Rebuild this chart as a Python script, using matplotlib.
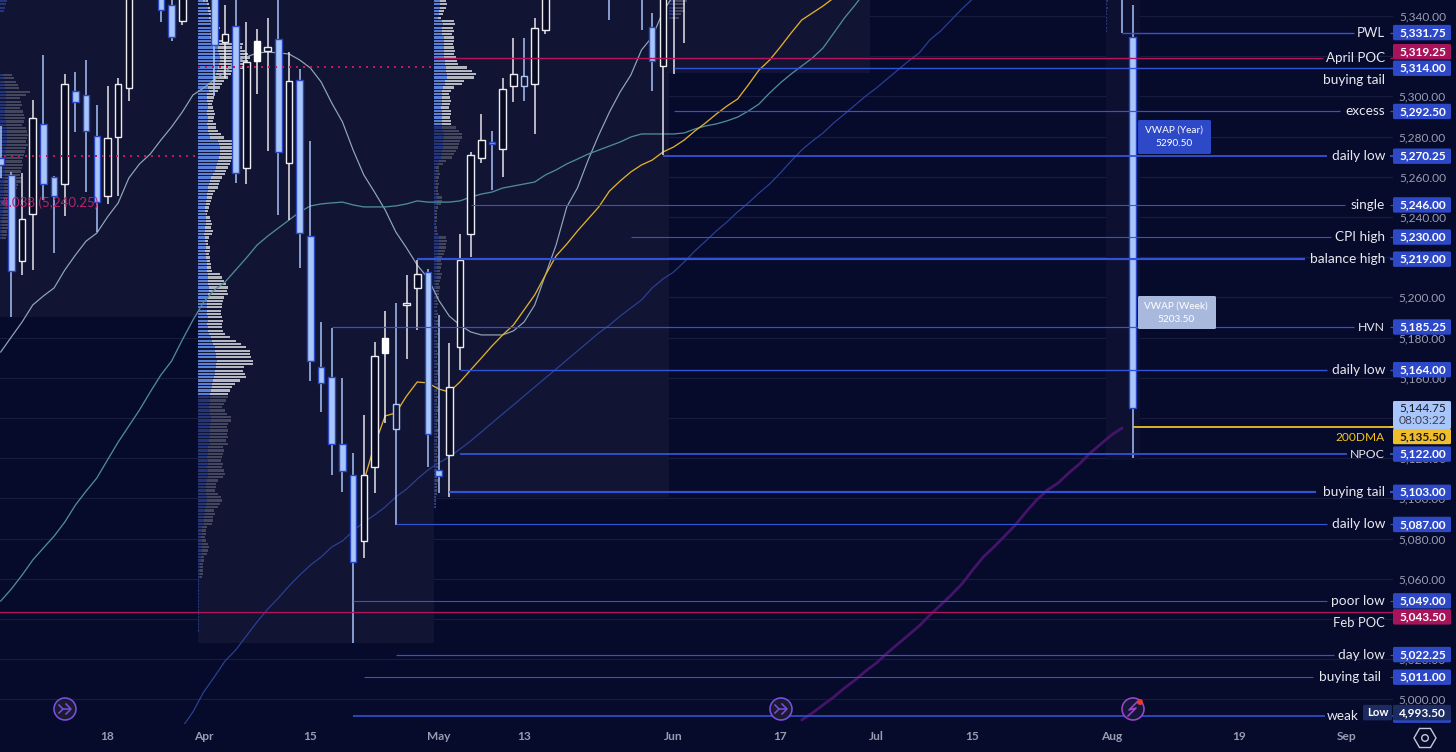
import numpy as np
import matplotlib
matplotlib.use("Agg")
import matplotlib.pyplot as plt
from matplotlib.patches import FancyBboxPatch, Circle, RegularPolygon, Rectangle

plt.rcParams['font.family'] = ['Lato', 'DejaVu Sans']

BG = '#060a2b'
BOX = '#111433'
BLUE_FILL = '#a9c6fb'
BLUE_EDGE = '#2a46c0'
TAG_BLUE = '#2e49c8'
GRID = '#191d3d'

# ---- candles: bar number (Mar 18 = 0), body top/bottom, wick, style
bar = [-10,-9,-8,-7,-6,-5,-4,-3,-2,-1,0,1,2,5,6,7,9,10,11,12,13,14,15,16,17,18,19,20,21,22,23,24,25,26,27,28,29,30,31,32,33,34,35,36,37,38,39,40,41,47,50,51,52,53,54,95,96]
body_top = [5269.3,5260.9,5239,5289.2,5286.3,5259.9,5306.2,5302.7,5300.7,5280.3,5279.3,5306.2,5370,5365,5345.5,5360,5365,5380,5331,5335,5317.1,5327.6,5324.6,5328.6,5307.7,5308.2,5230.5,5165.3,5160.4,5127,5111.6,5111.6,5170.8,5179.8,5146.9,5197.2,5211.6,5212.6,5114.1,5155.4,5218.6,5270.8,5278.3,5277.3,5303.7,5311.1,5310.1,5334,5362,5370,5370,5334.5,5365,5372,5372,5375,5329.6]
body_bot = [5265.9,5213.1,5218.1,5241.5,5256.4,5250.4,5256.4,5297.2,5282.8,5247.4,5250.4,5279.8,5304.2,5343,5329.6,5337.5,5352,5325.6,5327.1,5261.9,5264.4,5317.6,5322.6,5272.3,5266.9,5232,5168.3,5157.4,5127,5113.6,5068.3,5078.8,5115.6,5172.3,5134.5,5196.2,5204.7,5132,5111.1,5121.6,5175.3,5231.5,5269.3,5276.3,5273.8,5305.2,5305.2,5306.2,5333,5350,5352,5317.6,5315.1,5352,5352,5350,5145]
wick_high = [5285.3,5262.4,5261.9,5298.2,5320.6,5260.4,5311.1,5312.1,5318.1,5295.7,5305.2,5309.1,5375,5370,5355,5362,5370,5385,5345.5,5370,5337,5333.5,5339,5365,5322.1,5313.6,5277.8,5187.7,5184.8,5159.9,5122.5,5141.5,5177.8,5193.2,5197.2,5211.1,5218.6,5214,5191.2,5177.3,5231.5,5272.3,5291.2,5282.8,5309.1,5329.1,5329.1,5339,5370,5375,5375,5341.5,5375,5375,5375,5380,5345.5]
wick_low = [5259.4,5190.2,5211.1,5213.6,5248.4,5222.1,5240.5,5282.3,5252.4,5232.5,5246.5,5250.4,5297.7,5337,5327.6,5335.5,5347,5300.2,5309.1,5256.9,5256.4,5301.2,5272.8,5241,5238.5,5214.6,5158.4,5143,5111.6,5103.1,5028,5070.3,5102.6,5137.5,5086.7,5169.3,5183.8,5115.6,5102.6,5100.7,5163.9,5220,5266.9,5253.4,5259.9,5297.2,5297.7,5281.3,5331,5338,5333,5302.7,5270.8,5311.1,5326.6,5331.5,5120]
style = list("BBHHBBHBBBHHHBBHBBHBHWHBHBBBBBBHHWOHHBBHHHHBHHOHHBBBHHHBB")

# ---- moving averages
ma_a_start = -10
ma_a = [5172.8,5180.3,5187.7,5196.2,5200.7,5204.7,5213.6,5221.1,5228,5232,5240,5247,5259.4,5266.4,5271.3,5278.3,5284.8,5292.2,5300.7,5304.2,5308.2,5312.1,5317.1,5319.6,5321.6,5322.1,5321.6,5321.1,5318.1,5314.1,5307.2,5296.7,5287.3,5273.3,5260.9,5252.4,5243.5,5232.5,5224.6,5216.1,5209.6,5198.7,5190.7,5186.2,5182.8,5181.3,5181.3,5181.3,5183.3,5187.7,5196.2,5211.1,5226,5245,5254.4,5268.3,5280.8,5292.2,5302.2,5310.6,5323.1,5329.6,5342,5350.4,5360.4]
ma_t_start = -10
ma_t = [5048.9,5054.9,5061.8,5069.3,5075.3,5081.2,5088.2,5096.7,5103.6,5110.1,5119.1,5128,5136,5144,5152.9,5161.4,5168.3,5178.8,5188.7,5197.7,5203.7,5207.6,5213.6,5219.6,5226,5230.5,5234.5,5238.5,5242.5,5245.5,5246.5,5247,5247.4,5246,5245,5245,5245,5245.5,5246.5,5248,5247.4,5247.4,5247.4,5248,5249.9,5251.4,5252.4,5254.4,5255.4,5256.4,5257.4,5260.9,5263.4,5266.4,5268.8,5271.3,5273.3,5275.3,5277.3,5279.8,5281.3,5281.3,5281.3,5281.3,5281.8,5283.8,5285.3,5286.3,5287.8,5289.7,5292.7,5296.2,5301.7,5306.7,5311.1,5315.1,5319.1,5324.1,5331.5,5339,5345.5,5352.4]
ma_n_start = 7
ma_n = [4986.2,4993.7,5003.6,5011.1,5019,5024.5,5031.5,5038.5,5044.9,5050.4,5056.4,5061.8,5066.8,5070.8,5075.8,5078.8,5083.7,5088.2,5091.7,5095.7,5100.7,5104.6,5109.6,5114.1,5117.6,5120.6,5124.5,5128.5,5133,5137.5,5142,5146.4,5150.9,5155.4,5159.9,5164.3,5168.8,5173.3,5177.8,5182.3,5186.2,5190.7,5194.7,5198.7,5204.7,5209.1,5212.6,5217.6,5223.1,5228,5233,5237.5,5242.5,5247,5251.9,5256.4,5261.9,5267.8,5273.3,5277.8,5281.8,5286.8,5291.2,5295.7,5300.2,5304.2,5308.7,5313.1,5317.6,5321.6,5328.1,5332.5,5338,5343.5,5348.5]
ma_y_start = 24
ma_y = [5108.6,5126.5,5141,5142.5,5150.9,5157.9,5157.4,5154.4,5152.9,5157.9,5163.9,5169.8,5175.8,5181.3,5186.2,5193.7,5201.2,5211.1,5220.6,5226.5,5233,5239,5245,5252.9,5257.9,5262.4,5265.9,5268.3,5272.3,5274.8,5278.3,5282.8,5286.8,5291.2,5295.2,5298.7,5305.7,5313.1,5318.1,5324.6,5331.5,5338,5341.5,5345,5349]
ma_p_start = 65
ma_p = [4989.7,4993.2,4997.2,5001.1,5005.6,5009.6,5014.1,5018.1,5023,5027.5,5032,5036.5,5041.9,5046.9,5051.9,5057.4,5064.3,5070.8,5075.8,5081.2,5086.7,5093.2,5099.2,5104.1,5107.6,5112.6,5117.1,5122.5,5127,5131.5,5135]

# ---- price levels drawn as lines with a name and a tag
level_price = [5331.75,5319.25,5314.00,5292.50,5270.25,5246.00,5230.00,5219.00,5185.25,5164.00,5135.50,5122.00,5103.00,5087.00,5049.00,5043.50,5022.25,5011.00,4991.75]
level_name = ["PWL","April POC","buying tail","excess","daily low","single","CPI high","balance high","HVN","daily low","200DMA","NPOC","buying tail","daily low","poor low","Feb POC","day low","buying tail","weak"]
level_start = [95,30.6,53,53,52,34,49,29,21,33,96,33,32,27,23,-11,27,24,23]
level_end_px = [1354,1323,1393,1340,1327,1345,1331,1305,1354,1327,1393,1347,1316,1327,1327,1393,1334,1313,1325]
level_lw_px = [1.4,1.4,1.4,1.2,1.8,1.1,1.1,2.2,1.2,1.4,1.8,1.8,2.2,1.2,1.1,1.2,1.2,1.1,1.6]
level_color = ['b','r','b','b','b','b','b','b','b','b','y','b','b','b','b','r','b','b','b']
label_right_px = [1385,1385,1385,1385,1385,1385,1385,1385,1385,1385,1385,1385,1385,1385,1385,1385,1385,1381,1359]
label_dy_px = [0,0,12,0,0,0,0,0,0,0,11,0,0,0,0,11,0,0,0]
label_size = [9.4,9.6,9.8,9.8,9.8,9.8,9.8,9.8,8.8,9.8,8.6,8.8,9.8,9.8,9.8,9.4,9.8,9.8,9.8]
tag_dy_px = [0,-6,0,0,0,0,0,0,0,0,9.5,0,0,0,0,5,0,0,0]

# ---- axes tick values
price_ticks = list(range(5000, 5341, 20))
covered_ticks = [5320, 5220, 5140, 5040]
time_ticks = [0,9,19,31,39,53,63,72,81,94,106,116]
time_labels = ["18","Apr","15","May","13","Jun","17","Jul","15","Aug","19","Sep"]

# ---- session volume profiles (row widths, bright part first)
apr_total = [10,11,12,13,15,14,18,20,22,20,17,19,30,45,44,47,50,52,50,48,46,36,33,30,26,24,22,20,17,16,15,14,15,16,17,16,15,18,18,20,23,26,38,40,42,40,38,36,33,32,30,28,27,24,22,21,20,17,15,14,13,12,11,10,9,12,13,14,13,15,14,11,10,10,12,12,11,12,12,13,13,14,22,24,26,28,30,29,30,26,25,24,24,23,23,24,25,24,24,25,27,32,38,43,48,52,52,53,55,55,46,45,47,48,42,37,34,32,30,
             30,28,26,24,27,29,33,33,30,29,30,29,30,28,30,25,26,25,24,23,25,24,26,27,25,20,18,18,17,20,23,24,22,20,16,17,15,15,14,9,8,8,7,8,10,11,10,9,6,6,5,5,5,5,4,1,1,1,1,1,1,1,1,1,1,1,1,1,1,1,1]
apr_blue = [8,9,10,10,11,11,12,13,14,13,12,12,16,18,20,20,21,22,22,21,20,19,18,16,14,10,10,11,9,9,9,10,10,9,9,10,10,9,10,10,11,12,20,21,22,22,22,21,20,19,18,17,15,13,12,11,10,10,9,9,8,8,7,7,8,8,8,8,7,7,6,7,7,8,8,7,8,8,9,9,9,9,10,10,10,10,11,11,10,10,9,9,9,9,9,10,10,9,10,10,11,13,14,15,17,17,18,18,19,18,18,17,17,16,15,14,14,13,12,
            13,12,12,11,12,12,13,13,12,12,12,12,12,11,12,10,10,10,9,10,10,9,10,10,10,9,8,8,8,8,9,9,8,8,7,7,6,6,6,4,4,4,3,4,4,4,4,4,3,3,2,2,2,2,2,1,1,1,1,1,1,1,1,1,1,1,1,1,1,1,1]
apr_bright_rows = 119
may_total = [12,13,12,10,9,7,20,21,19,20,18,20,20,19,20,21,20,22,23,24,33,38,42,40,30,28,20,17,15,16,17,16,15,17,17,16,17,17,
             22,25,28,28,26,25,24,22,20,18,12,9,5,5,6,5,4,5,4,4,5,8,8,7,4,3,3,3,3,2,3,3,4,12,13,12,12,11,10,8,7,8,7,6,8,7,6,5,6,5,5,5,
             3,4,3,3,4,3,4,4,3,3,4,3,3,4,4,3,4,3,3,4,3,4,4,3,3,4,4,3,3,4,3,3,4,4,3,3,4,3,3,4,3,4,3,3,4,3,3,4,3,3,4,3,3,3,4,3,3,3,3,2,2,2,2]
may_blue = [6,6,6,5,5,4,8,9,8,8,8,10,10,10,10,10,10,10,11,11,12,12,13,13,11,11,9,8,8,8,8,8,7,8,8,8,8,8,
            8,9,10,10,9,9,9,8,8,7,5,4,2,2,3,2,2,2,2,2,2,3,3,3,2,1,1,1,1,1,1,1,2,5,5,5,5,4,4,3,3,3,3,3,3,3,2,2,2,2,2,2,
            2,2,2,2,2,2,2,2,2,2,2,2,2,2,2,2,2,2,2,2,2,2,2,2,2,2,2,2,2,2,2,2,2,2,2,2,2,2,2,2,2,2,2,2,2,2,2,2,2,2,2,1,1,1,1,1,1,1,1,1,1,1,1]
may_bright_rows = 38
mar_edge = [12,14,16,18,19,30,26,20,21,22,20,23,24,25,24,22,26,27,28,27,26,28,26,25,24,23,22,23,22,21,20,22,21,18,17,16,15,14,13,12,12,11,10,9,9,8,8,7,7,6]
mar_blue = [3,4,4,5,5,6,6,6,6,6,5,5,5,5,6,6,7,7,7,7,7,7,6,6,6,6,6,6,5,5,5,5,4,4,4,4,4,3,3,3,3,3,3,2,2,2,2,2,2,2]
mar_top_edge = [7,6,5,4]
jun_total = [18,16,14,16,12,10]
jun_blue = [6,6,5,5,4,3]
aug_total = [2,1,2,1,1,1,1,1,1,1]
PROFILE_STEP = 1.657

# pixel layout of the reference
W, H = 1456, 752
PLOT_R, PLOT_B = 1393, 724
BAR_PX = 10.68
BAR0_PX = 107.5
PPP = 2.0097
def ix(px): return (px - BAR0_PX) / BAR_PX
def py(p): return 16 + (5340 - p) * PPP
def pr(y): return 5340 - (y - 16) / PPP
def pt(px): return px * 0.72

fig = plt.figure(figsize=(W/100, H/100), dpi=100, facecolor=BG)
ax = fig.add_axes([0, (H-PLOT_B)/H, PLOT_R/W, PLOT_B/H], facecolor=BG)
ax.set_xlim(ix(0), ix(PLOT_R))
ax.set_ylim(pr(PLOT_B), pr(0))
for s in ax.spines.values():
    s.set_visible(False)

# ticks and grid
ax.yaxis.tick_right()
ax.set_yticks(price_ticks)
ax.set_yticklabels(["" if v in covered_ticks else f"{v:,.2f}" for v in price_ticks])
ax.tick_params(axis='y', length=0, pad=pt(53), labelsize=8.6, labelcolor='#9a9db0')
for t in ax.get_yticklabels():
    t.set_ha('right')
ax.set_xticks(time_ticks)
ax.set_xticklabels(time_labels, fontweight='bold')
ax.tick_params(axis='x', length=0, pad=pt(7), labelsize=8.6, labelcolor='#9a9db0')
ax.set_axisbelow(True)
ax.grid(axis='y', color=GRID, lw=pt(1.2))
ax.grid(axis='x', visible=False)

# shaded session boxes
boxes = [(0,198,317,BOX),(198,434,642.5,BOX),(434,669,497,BOX),(669,870,73,BOX),(1106,1140,460,'#0d1030')]
for x0, x1, yb, c in boxes:
    ax.add_patch(Rectangle((ix(x0), pr(yb)), ix(x1)-ix(x0), pr(-5)-pr(yb), fc=c, ec='none', zorder=0.8))

# profiles
def profile(x0_px, total, blue, bright, top_price):
    rows = top_price - PROFILE_STEP*np.arange(len(total))
    total = np.asarray(total, float); blue = np.asarray(blue, float)
    for sel, cg, cb in ((np.arange(len(total)) < bright, '#b4b6c0', '#5a7fd6'),
                        (np.arange(len(total)) >= bright, '#43465c', '#25357a')):
        ax.barh(rows[sel], total[sel]/BAR_PX, left=ix(x0_px), height=PROFILE_STEP*0.68, color=cg, lw=0, zorder=1.2)
        ax.barh(rows[sel], blue[sel]/BAR_PX, left=ix(x0_px), height=PROFILE_STEP*0.68, color=cb, lw=0, zorder=1.3)
profile(198, apr_total, apr_blue, apr_bright_rows, pr(1))
profile(434, may_total, may_blue, may_bright_rows, pr(1))
profile(0, mar_edge, mar_blue, 0, pr(75))
profile(0, mar_top_edge, mar_top_edge, 0, pr(1))
profile(669, jun_total, jun_blue, 0, pr(1))
profile(1106, aug_total, aug_total, 0, pr(1))

# moving averages
ax.plot(np.arange(len(ma_a))+ma_a_start, ma_a, color='#90a8b8', lw=pt(1.2), zorder=1.6)
ax.plot(np.arange(len(ma_t))+ma_t_start, ma_t, color='#4f8c99', lw=pt(1.3), zorder=1.6)
ax.plot(np.arange(len(ma_n))+ma_n_start, ma_n, color='#2c4196', lw=pt(1.2), zorder=1.6)
ax.plot(np.arange(len(ma_y))+ma_y_start, ma_y, color='#e2b12a', lw=pt(1.3), zorder=1.6)
ax.plot(np.arange(len(ma_p))+ma_p_start, ma_p, color='#451468', lw=pt(2.8), zorder=1.6, solid_capstyle='round')

# candles
for b, t, bt, hi, lo, st in zip(bar, body_top, body_bot, wick_high, wick_low, style):
    wc = {'B':BLUE_FILL,'O':BLUE_FILL,'H':'#e8e8ee','W':'#f0f0f4'}[st]
    ax.vlines(b, lo, hi, color=wc, lw=pt(1.5), zorder=2)
    if st == 'B':
        fc, ec = BLUE_FILL, BLUE_EDGE
    elif st == 'O':
        fc, ec = BOX, BLUE_FILL
    elif st == 'W':
        fc, ec = '#ffffff', '#ffffff'
    else:
        fc, ec = '#080a22', '#ececf2'
    ax.bar(b, t-bt, bottom=bt, width=0.62, color=fc, edgecolor=ec, lw=pt(1.4), zorder=2.1)

# POC dotted lines
ax.hlines(pr(156), ix(4), ix(198), color='#c2185b', lw=pt(2), linestyles=(0,(1,2.5)), zorder=2.5)
ax.hlines(pr(67), ix(198), ix(434), color='#c2185b', lw=pt(2), linestyles=(0,(1,2.5)), zorder=2.5)
ax.text(ix(1), pr(202.5), "4.038 (5,240.25)", color='#b8236c', fontsize=9.6, va='center', ha='left', zorder=2.6)

# levels
LC = {'b':'#3353d6','r':'#b4145e','y':'#f0c02c'}
for p, s, e, w, c in zip(level_price, level_start, level_end_px, level_lw_px, level_color):
    ax.hlines(p, s, ix(e), color=LC[c], lw=pt(w), zorder=3)
    ax.hlines(p, ix(1390), ix(1393), color=LC[c], lw=pt(w), zorder=3)

# overlay in pixels
ov = fig.add_axes([0,0,1,1], facecolor='none')
ov.set_xlim(0, W); ov.set_ylim(H, 0); ov.axis('off')

def tag(x0, x1, y0, y1, fc, z=5):
    ov.add_patch(FancyBboxPatch((x0+1, y0+1), x1-x0-2, y1-y0-2, boxstyle="round,pad=1,rounding_size=1.5", fc=fc, ec='none', zorder=z))

for p, n, c, rx, dl, dt, fs in zip(level_price, level_name, level_color, label_right_px, label_dy_px, tag_dy_px, label_size):
    tc = '#ffffff'; fc = TAG_BLUE; lc = '#e8e9f0'
    if c == 'r':
        fc = '#a8145a'
    if c == 'y':
        fc = '#f0bd2c'; tc = '#1a1a1a'; lc = '#f5c518'
    y = py(p)
    ov.text(rx, y+dl, n, color=lc, fontsize=fs, ha='right', va='center', zorder=6)
    if n == 'weak':
        continue
    yc = y + dt
    tag(1393, 1451, yc-7.7, yc+7.7, fc)
    ov.text(1446, yc, f"{p:,.2f}", color=tc, fontsize=8.6, ha='right', va='center', fontweight='bold', zorder=6)

# low / current price tags
yl = py(4993.5)
tag(1393, 1451, yl+6, yl+10.5, TAG_BLUE, z=4.5)
tag(1393, 1451, yl-7.5, yl+8, '#1d2c60')
ov.text(1446, yl, "4,993.50", color='#ffffff', fontsize=8.6, ha='right', va='center', fontweight='bold', zorder=6)
tag(1363, 1392, yl-7.5, yl+8, '#1d2c60')
ov.text(1377.5, yl, "Low", color='#ffffff', fontsize=8.2, ha='center', va='center', fontweight='bold', zorder=6)
tag(1393, 1451, 401, 429, BLUE_FILL)
ov.text(1446, 408, "5,144.75", color='#131722', fontsize=8.6, ha='right', va='center', zorder=6)
ov.text(1446, 421, "08:03:22", color='#3a3f55', fontsize=8.6, ha='right', va='center', zorder=6)

# VWAP boxes
tag(1138, 1211, 120, 154, '#2e49c8')
ov.text(1174, 130, "VWAP (Year)", color='white', fontsize=7.2, ha='center', va='center', zorder=6)
ov.text(1174, 143, "5290.50", color='white', fontsize=7.2, ha='center', va='center', zorder=6)
tag(1138, 1216, 296, 329, '#a9b9de')
ov.text(1176, 306, "VWAP (Week)", color='white', fontsize=7.2, ha='center', va='center', zorder=6)
ov.text(1176, 319, "5203.50", color='white', fontsize=7.2, ha='center', va='center', zorder=6)

# event icons
for cx in (65, 781):
    ov.add_patch(Circle((cx, 709), 11, fc='#1a1b30', ec='#7a50e0', lw=pt(1.6), zorder=6))
    ov.plot([cx-6, cx-2, cx+5], [705, 709, 709], color='#7a50e0', lw=pt(1.5), zorder=7)
    ov.plot([cx-6, cx-2], [713, 709], color='#7a50e0', lw=pt(1.5), zorder=7)
    ov.plot([cx+1, cx+6, cx+1], [704, 709, 714], color='#7a50e0', lw=pt(1.5), zorder=7)
ov.add_patch(Circle((1133, 709), 11, fc='#14163a', ec='#9c47c8', lw=pt(1.6), zorder=6))
ov.plot([1137, 1129, 1136, 1128], [702, 710, 708, 716], color='#9c47c8', lw=pt(1.6), zorder=7)
ov.add_patch(Circle((1140, 702), 3, fc='#e53935', ec='none', zorder=8))

# settings icon
ov.add_patch(RegularPolygon((1425, 738), 6, radius=11, orientation=np.pi/2, fc='none', ec='#c4c6d2', lw=pt(1.4), zorder=6))
ov.add_patch(Circle((1425, 738), 3.3, fc='none', ec='#c4c6d2', lw=pt(1.4), zorder=6))

fig.savefig('out.png', dpi=100, facecolor=BG)
